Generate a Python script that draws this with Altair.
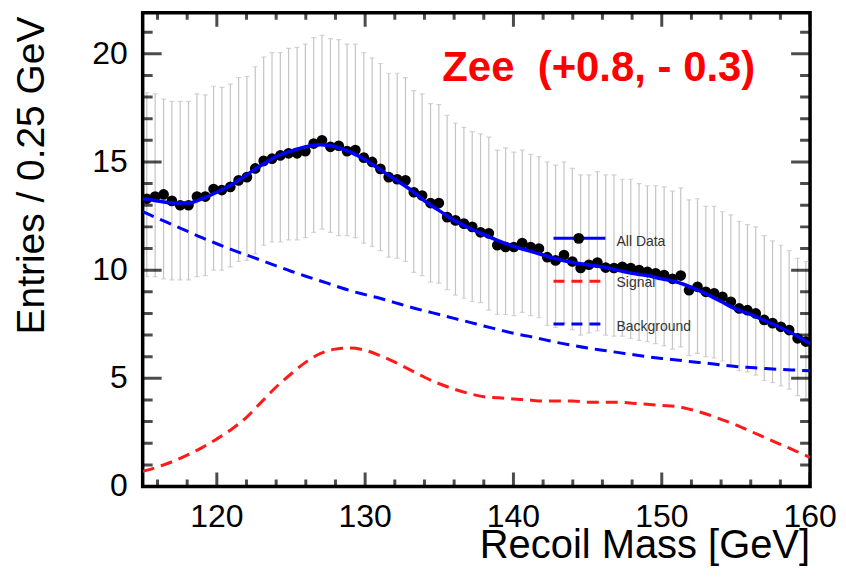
import altair as alt
import pandas as pd

FONT = "Liberation Sans"

# ---------------- data ----------------
bin_centers = [115.28, 115.84, 116.41, 116.97, 117.53, 118.09, 118.66, 119.22, 119.78, 120.34,
               120.91, 121.47, 122.03, 122.59, 123.16, 123.72, 124.28, 124.84, 125.41, 125.97,
               126.53, 127.09, 127.66, 128.22, 128.78, 129.34, 129.91, 130.47, 131.03, 131.59,
               132.16, 132.72, 133.28, 133.84, 134.41, 134.97, 135.53, 136.09, 136.66, 137.22,
               137.78, 138.34, 138.91, 139.47, 140.03, 140.59, 141.16, 141.72, 142.28, 142.84,
               143.41, 143.97, 144.53, 145.09, 145.66, 146.22, 146.78, 147.34, 147.91, 148.47,
               149.03, 149.59, 150.16, 150.72, 151.28, 151.84, 152.41, 152.97, 153.53, 154.09,
               154.66, 155.22, 155.78, 156.34, 156.91, 157.47, 158.03, 158.59, 159.16, 159.72]

data_vals = [13.3, 13.4, 13.5, 13.2, 13.0, 13.0, 13.4, 13.4, 13.75, 13.7,
             13.85, 14.15, 14.3, 14.7, 15.05, 15.15, 15.3, 15.4, 15.4, 15.5,
             15.85, 16.0, 15.7, 15.75, 15.5, 15.55, 15.2, 15.0, 14.68, 14.3,
             14.2, 14.15, 13.6, 13.45, 13.1, 13.1, 12.45, 12.3, 12.15, 12.0,
             11.75, 11.7, 11.15, 11.07, 11.07, 11.25, 11.07, 11.0, 10.6, 10.45,
             10.7, 10.4, 10.1, 10.25, 10.35, 10.12, 10.1, 10.15, 10.1, 10.0,
             9.92, 9.85, 9.77, 9.6, 9.75, 9.07, 9.23, 9.0, 8.93, 8.77,
             8.54, 8.23, 8.15, 8.0, 7.7, 7.55, 7.38, 7.23, 6.85, 6.7]

err_hi = [18.2, 18.15, 17.9, 17.8, 17.8, 17.8, 18.15, 18.1, 18.5, 18.45,
          18.6, 18.9, 18.95, 19.4, 19.85, 20.05, 20.05, 20.25, 20.3, 20.45,
          20.75, 20.85, 20.7, 20.65, 20.45, 20.45, 20.05, 19.8, 19.55, 19.1,
          19.1, 18.9, 18.3, 18.15, 17.7, 17.65, 17.15, 16.8, 16.6, 16.4,
          16.3, 16.15, 15.55, 15.65, 15.45, 15.55, 15.35, 15.25, 15.0, 14.85,
          15.0, 14.7, 14.4, 14.4, 14.55, 14.4, 14.4, 14.2, 14.2, 14.0,
          13.9, 13.9, 13.85, 13.65, 13.8, 13.25, 13.3, 12.95, 12.95, 12.7,
          12.55, 12.25, 12.1, 12.0, 11.6, 11.35, 11.15, 10.9, 10.55, 10.4]

err_lo = [9.7, 9.7, 9.6, 9.55, 9.55, 9.55, 9.7, 9.75, 10.0, 10.0,
          10.15, 10.4, 10.45, 10.75, 11.15, 11.3, 11.3, 11.4, 11.4, 11.5,
          11.75, 11.9, 11.75, 11.6, 11.6, 11.5, 11.25, 11.1, 10.9, 10.6,
          10.55, 10.4, 9.9, 9.75, 9.45, 9.4, 9.1, 8.85, 8.7, 8.55,
          8.5, 8.15, 7.95, 7.95, 7.9, 8.05, 7.9, 7.8, 7.45, 7.35,
          7.55, 7.25, 7.0, 7.1, 7.2, 7.0, 6.95, 6.95, 6.85, 6.75,
          6.7, 6.6, 6.5, 6.35, 6.45, 6.05, 6.15, 6.0, 5.95, 5.8,
          5.6, 5.35, 5.3, 5.15, 4.9, 4.8, 4.65, 4.5, 4.2, 4.05]

curve_x = [115, 116, 117, 118, 119, 120, 121, 122, 123, 124, 125, 126, 127, 128, 129, 130,
           131, 132, 133, 134, 135, 136, 137, 138, 139, 140, 141, 142, 143, 144, 145, 146,
           147, 148, 149, 150, 151, 152, 153, 154, 155, 156, 157, 158, 159, 160]

fit_total = [13.3, 13.2, 13.1, 13.1, 13.3, 13.6, 13.95, 14.4, 14.85, 15.25, 15.5, 15.7, 15.8, 15.7,
             15.45, 15.1, 14.65, 14.2, 13.75, 13.2, 12.75, 12.3, 11.95, 11.65, 11.35, 11.1, 10.9,
             10.7, 10.5, 10.35, 10.25, 10.15, 10.0, 9.85, 9.75, 9.6, 9.45, 9.2, 8.9, 8.55, 8.2,
             7.95, 7.65, 7.35, 7.0, 6.6]

background = [12.7, 12.4, 12.1, 11.8, 11.5, 11.22, 10.95, 10.7, 10.45, 10.2, 9.95, 9.72, 9.5, 9.27,
              9.05, 8.87, 8.7, 8.5, 8.3, 8.12, 7.95, 7.77, 7.6, 7.42, 7.25, 7.08, 6.95, 6.8, 6.65,
              6.52, 6.4, 6.3, 6.2, 6.1, 6.0, 5.92, 5.85, 5.77, 5.7, 5.62, 5.55, 5.5, 5.45, 5.41,
              5.38, 5.35]

signal = [0.7, 0.9, 1.15, 1.45, 1.8, 2.2, 2.65, 3.2, 3.9, 4.6, 5.2, 5.75, 6.15, 6.35, 6.4, 6.3,
          6.05, 5.75, 5.4, 5.05, 4.75, 4.5, 4.3, 4.15, 4.1, 4.05, 4.0, 3.95, 3.95, 3.95, 3.9, 3.9,
          3.9, 3.85, 3.8, 3.75, 3.7, 3.55, 3.35, 3.1, 2.85, 2.55, 2.25, 1.95, 1.65, 1.35]

# legend (placed in data coordinates inside the frame)
legend_labels = ["All Data", "Signal", "Background"]
legend_colors = ["#0000ff", "#ff1a1a", "#0000ff"]
legend_line_y = [11.47, 9.49, 7.51]
legend_text_y = [11.3, 9.4, 7.35]
legend_x_start = 142.7
legend_x_end = 146.2
legend_dot_x = 144.4
legend_text_x = 146.95

annotation_text = ["Zee\u00a0 (+0.8, - 0.3)"]
annotation_x = [135.2]
annotation_y = [18.75]

x_title = "Recoil Mass [GeV]"
y_title = "Entries / 0.25 GeV"
x_labels = [120, 130, 140, 150, 160]
y_labels = [0, 5, 10, 15, 20]
x_major = [120, 130, 140, 150, 160]
x_minor = [116, 118, 122, 124, 126, 128, 132, 134, 136, 138, 142, 144, 146, 148, 152, 154, 156, 158]
y_major = [5, 10, 15, 20]
y_minor = [1, 2, 3, 4, 6, 7, 8, 9, 11, 12, 13, 14, 16, 17, 18, 19, 21]

W, H = 669, 475
X0, X1 = 115, 160
Y0, Y1 = 0, 21.9
XPX = W / (X1 - X0)   # pixels per GeV
YPX = H / (Y1 - Y0)   # pixels per entry

# ---------------- tables ----------------
pts = pd.DataFrame({"x": bin_centers, "y": data_vals, "hi": err_hi, "lo": err_lo})
curves = pd.DataFrame({"x": curve_x, "fit": fit_total, "bkg": background, "sig": signal})
leg = pd.DataFrame({"label": legend_labels, "color": legend_colors,
                    "ly": legend_line_y, "ty": legend_text_y,
                    "x1": [legend_x_start] * 3, "x2": [legend_x_end] * 3,
                    "tx": [legend_text_x] * 3})
dot = pd.DataFrame({"x": [legend_dot_x], "y": [legend_line_y[0]]})
ann = pd.DataFrame({"t": annotation_text, "x": annotation_x, "y": annotation_y})
xlab = pd.DataFrame({"lv": x_labels, "lt": [str(v) for v in x_labels]})
ylab = pd.DataFrame({"lv": y_labels, "lt": [str(v) for v in y_labels]})
xtit = pd.DataFrame({"tt": [x_title]})
ytit = pd.DataFrame({"tt": [y_title]})


def xtick_df(values, length_px):
    half = length_px / 2 / YPX
    rows = []
    for v in values:
        rows.append({"tv": v, "tc": Y0 + half})
        rows.append({"tv": v, "tc": Y1 - half})
    return pd.DataFrame(rows)


def ytick_df(values, length_px):
    half = length_px / 2 / XPX
    rows = []
    for v in values:
        rows.append({"tv": v, "tc": X0 + half})
        rows.append({"tv": v, "tc": X1 - half})
    return pd.DataFrame(rows)


xs = alt.Scale(domain=[X0, X1], nice=False, zero=False)
ys = alt.Scale(domain=[Y0, Y1], nice=False, zero=False)


def X(field):
    return alt.X(field, type="quantitative", scale=xs, axis=None)


def Y(field):
    return alt.Y(field, type="quantitative", scale=ys, axis=None)


ERR = "#c4c4c4"

err_rule = alt.Chart(pts).mark_rule(color=ERR, strokeWidth=1.2, clip=True).encode(
    x=X("x"), y=Y("lo"), y2="hi:Q",
)

cap_hi = alt.Chart(pts).mark_tick(color=ERR, orient="horizontal", size=5, thickness=1.2,
                                  clip=True).encode(x=X("x"), y=Y("hi"))

cap_lo = alt.Chart(pts).mark_tick(color=ERR, orient="horizontal", size=5, thickness=1.2,
                                  clip=True).encode(x=X("x"), y=Y("lo"))

bkg_line = alt.Chart(curves).mark_line(color="#0000ff", strokeWidth=3, strokeDash=[12, 7],
                                       interpolate="monotone", clip=True).encode(
    x=X("x"), y=Y("bkg"))

sig_line = alt.Chart(curves).mark_line(color="#ff1a1a", strokeWidth=3, strokeDash=[12, 7],
                                       interpolate="monotone", clip=True).encode(
    x=X("x"), y=Y("sig"))

points = alt.Chart(pts).mark_point(filled=True, color="black", size=115, opacity=1,
                                   clip=True).encode(x=X("x"), y=Y("y"))

fit_line = alt.Chart(curves).mark_line(color="#0000ff", strokeWidth=3.5, interpolate="monotone",
                                       clip=True).encode(x=X("x"), y=Y("fit"))

leg_solid = alt.Chart(leg).transform_filter(alt.datum.label == "All Data").mark_rule(
    strokeWidth=3).encode(
    x=X("x1"), x2="x2:Q", y=Y("ly"),
    color=alt.Color("color:N", scale=None),
)

leg_dash = alt.Chart(leg).transform_filter(alt.datum.label != "All Data").mark_rule(
    strokeWidth=3, strokeDash=[11, 7]).encode(
    x=X("x1"), x2="x2:Q", y=Y("ly"),
    color=alt.Color("color:N", scale=None),
)

leg_dot = alt.Chart(dot).mark_point(filled=True, color="black", size=120, opacity=1).encode(
    x=X("x"), y=Y("y"))

leg_text = alt.Chart(leg).mark_text(align="left", baseline="middle", font=FONT, fontSize=14,
                                    color="#333333").encode(
    x=X("tx"), y=Y("ty"), text="label:N",
)

ann_text = alt.Chart(ann).mark_text(align="left", baseline="alphabetic", font=FONT,
                                    fontSize=42, fontWeight="bold", color="#ff0000").encode(
    x=X("x"), y=Y("y"), text="t:N",
)

# inward-pointing frame ticks (ROOT style), drawn with tick marks like the error-bar caps
xt_major = alt.Chart(xtick_df(x_major, 14)).mark_tick(
    color="black", orient="vertical", size=14, thickness=3, clip=True).encode(
    x=X("tv"), y=Y("tc"))
xt_minor = alt.Chart(xtick_df(x_minor, 7)).mark_tick(
    color="black", orient="vertical", size=7, thickness=3, clip=True).encode(
    x=X("tv"), y=Y("tc"))
yt_major = alt.Chart(ytick_df(y_major, 19)).mark_tick(
    color="black", orient="horizontal", size=19, thickness=3, clip=True).encode(
    y=Y("tv"), x=X("tc"))
yt_minor = alt.Chart(ytick_df(y_minor, 10)).mark_tick(
    color="black", orient="horizontal", size=10, thickness=3, clip=True).encode(
    y=Y("tv"), x=X("tc"))

# axis tick labels and titles as text marks
x_tick_labels = alt.Chart(xlab).mark_text(align="center", baseline="alphabetic", font=FONT,
                                          fontSize=32, color="black").encode(
    x=X("lv"), y=alt.value(H + 41), text="lt:N")

y_tick_labels = alt.Chart(ylab).mark_text(align="right", baseline="middle", font=FONT,
                                          fontSize=32, color="black").encode(
    y=Y("lv"), x=alt.value(-15), text="lt:N")

x_title_mark = alt.Chart(xtit).mark_text(align="right", baseline="alphabetic", font=FONT,
                                         fontSize=40, color="black").encode(
    x=alt.value(W), y=alt.value(H + 72), text="tt:N")

y_title_mark = alt.Chart(ytit).mark_text(align="right", baseline="alphabetic", font=FONT,
                                         fontSize=39, color="black", angle=270).encode(
    x=alt.value(-99), y=alt.value(4), text="tt:N")

chart = alt.layer(
    err_rule, cap_hi, cap_lo, bkg_line, sig_line, points, fit_line,
    xt_major, xt_minor, yt_major, yt_minor,
    leg_solid, leg_dash, leg_dot, leg_text, ann_text,
    x_tick_labels, y_tick_labels, x_title_mark, y_title_mark,
).properties(
    width=W, height=H,
    autosize=alt.AutoSizeParams(type="none"),
    padding={"left": 135, "top": 4, "right": 28, "bottom": 80},
    background="white",
).configure_view(
    stroke="black", strokeWidth=3.5
)

chart.save("out.html", embed_options={"renderer": "svg", "actions": False})
